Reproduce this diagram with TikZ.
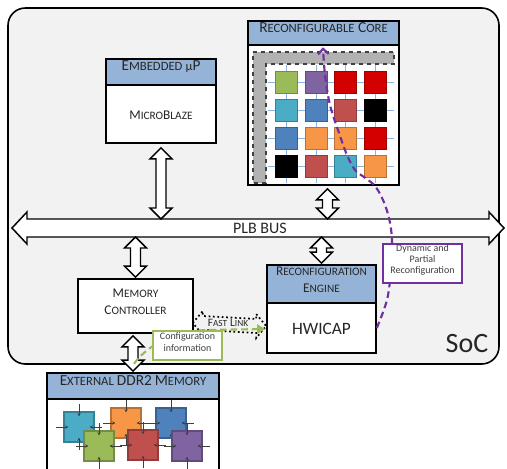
\documentclass[tikz,border=0pt]{standalone}
\usepackage{fontspec}
\setmainfont{Carlito}
\usetikzlibrary{calc,fit,arrows.meta}

\definecolor{socbg}{HTML}{F2F2F2}
\definecolor{hdrblue}{HTML}{95B3D7}
\definecolor{gridblue}{HTML}{8DB4E2}
\definecolor{lgray}{HTML}{B2B2B2}
\definecolor{cgreen}{HTML}{9BBB59}
\definecolor{cpurple}{HTML}{8064A2}
\definecolor{cred}{HTML}{D40000}
\definecolor{ccyan}{HTML}{4BACC6}
\definecolor{cblue}{HTML}{4F81BD}
\definecolor{cdred}{HTML}{C0504D}
\definecolor{corange}{HTML}{F79646}
\definecolor{linkpurple}{HTML}{7030A0}
\definecolor{linkgreen}{HTML}{9BBB59}

% fake small caps: large initial, smaller capitals
\newcommand{\SC}[4]{{\fontsize{#1}{#1}\selectfont #3}{\fontsize{#2}{#2}\selectfont #4}}
\newcommand{\HD}[2]{\SC{11.5}{9.5}{#1}{#2}}
\newcommand{\BD}[2]{\SC{10}{8.5}{#1}{#2}}

\tikzset{
  blockbox/.style={draw=black, line width=1.2pt, inner sep=0pt, fill=white},
  hdrbox/.style={blockbox, fill=hdrblue},
  blk/.style={draw=black, line width=1.1pt, fill=white, line join=miter},
  blkdot/.style={draw=black, line width=1.3pt, dotted, line join=miter},
  gridline/.style={draw=gridblue, line width=0.7pt},
  cell/.style={minimum size=16.5pt, inner sep=0pt, line width=0.6pt},
  memchip/.style={minimum size=22.5pt, inner sep=0pt, line width=0.8pt},
  chippin/.style={draw=black!75, line width=0.6pt, -{Stealth[length=2.5pt,width=2.5pt]}},
  note/.style={inner sep=0pt, fill=white, line width=1.3pt, align=center,
               font=\fontsize{7.5}{8.5}\selectfont, text=black!75},
}

% vertical double-headed block arrow between two points (top, bottom)
\newcommand{\vbi}[2]{%
  \draw[blk] (#1) -- ($(#1)+(11,11)$) -- ($(#1)+(5,11)$) -- ($(#2)+(5,-11)$)
    -- ($(#2)+(11,-11)$) -- (#2) -- ($(#2)+(-11,-11)$) -- ($(#2)+(-5,-11)$)
    -- ($(#1)+(-5,11)$) -- ($(#1)+(-11,11)$) -- cycle;}

% memory chip with a pin on each side
\newcommand{\chip}[4]{%
  \node[memchip, fill=#4, draw=#4!75!black] (#1) at (#2,#3) {};
  \draw[chippin] ($(#1.north)+(0,-7)$) -- ($(#1.north)+(0,5)$);
  \draw[chippin] ($(#1.south)+(0,7)$) -- ($(#1.south)+(0,-5)$);
  \draw[chippin] ($(#1.west)+(-7,0)$) -- ($(#1.west)+(5,0)$);
  \draw[chippin] ($(#1.east)+(7,0)$) -- ($(#1.east)+(-5,0)$);}

\begin{document}
\begin{tikzpicture}[x=0.75pt,y=-0.75pt]
\useasboundingbox (0,0) rectangle (507,468);
\clip (0,0) rectangle (507,468);

% system-on-chip outline
\node[fit={(8,8) (499,364)}, inner sep=0pt, draw=black, line width=1.2pt,
      fill=socbg, rounded corners=13pt] (soc) {};
\node[anchor=base east, font=\fontsize{21}{21}\selectfont, text=black!85] (soclbl) at (493,352) {SoC};

% PLB bus
\coordinate (busL) at (12,228);
\coordinate (busR) at (504,228);
\coordinate (bt) at (0,219);
\coordinate (bb) at (0,237);
\draw[blk] (busL) -- ($(busL)+(15,-16)$) -- ($(busL)+(15,-9)$) -- ($(busR)+(-15,-9)$)
  -- ($(busR)+(-15,-16)$) -- (busR) -- ($(busR)+(-15,16)$) -- ($(busR)+(-15,9)$)
  -- ($(busL)+(15,9)$) -- ($(busL)+(15,16)$) -- cycle;
\node[font=\fontsize{12}{12}\selectfont, text=black!85] (plb) at (260,228) {PLB BUS};

% reconfigurable core
\node[blockbox, fit={(248,21) (399,185)}] (core) {};
\node[hdrbox, fit={(248,21) (399,45)}, font=\fontsize{11.5}{11.5}\selectfont, text=black!85] (coreh)
  {\HD{R}{ECONFIGURABLE} \HD{C}{ORE}};
\draw[dashed, fill=lgray, draw=black!75, line width=0.8pt]
  (253,52) -- (394,52) -- (394,64) -- (266,64) -- (266,183) -- (253,183) -- cycle;
\foreach \y in {82,110,138,166} \draw[gridline] (268,\y) -- (394,\y);
\foreach \x in {286,316,345,375} \draw[gridline] (\x,65) -- (\x,183);
\foreach \x/\y/\c [count=\i] in {
  286/82/cgreen, 316/82/cpurple, 345/82/cred, 375/82/cred,
  286/110/ccyan, 316/110/cblue, 345/110/cdred, 375/110/black,
  286/138/cblue, 316/138/corange, 345/138/corange, 375/138/cred,
  286/166/black, 316/166/cdred, 345/166/ccyan, 375/166/corange}
  \node[cell, fill=\c, draw=\c!75!black] (cell\i) at (\x,\y) {};

% embedded processor
\node[blockbox, fit={(106,59) (216,143)}] (mb) {};
\node[hdrbox, fit={(106,59) (216,85)}, text=black!85] (mbh)
  {\HD{E}{MBEDDED} {\fontsize{9.5}{9.5}\selectfont µ}{\fontsize{11.5}{11.5}\selectfont P}};
\node[text=black!85] (mbtxt) at ($(mbh.south)!0.5!(mb.south)$) {\BD{M}{ICRO}\BD{B}{LAZE}};

% memory controller
\node[blockbox, fit={(78,279) (193,333)}, align=center, text=black!85,
      font=\fontsize{10}{12.5}\selectfont] (mc) {\BD{M}{EMORY}\\\BD{C}{ONTROLLER}};

% reconfiguration engine
\node[blockbox, fit={(267,265) (376,353)}] (eng) {};
\node[hdrbox, fit={(267,265) (376,303)}, align=center, text=black!85,
      font=\fontsize{11}{12.8}\selectfont] (engh) {\BD{R}{ECONFIGURATION}\\\BD{E}{NGINE}};
\node[font=\fontsize{13}{13}\selectfont, text=black!85] (hwicap) at ($(engh.south)!0.5!(eng.south)$) {HWICAP};

% external memory
\node[blockbox, fit={(47,373) (219,480)}] (ddr) {};
\node[hdrbox, fit={(47,373) (219,399)}, text=black!85] (ddrh)
  {\HD{E}{XTERNAL} \HD{DDR2}{} \HD{M}{EMORY}};
\chip{m1}{79}{427}{ccyan}
\chip{m3}{126}{423}{corange}
\chip{m5}{171}{423}{cblue}
\chip{m2}{99}{446}{cgreen}
\chip{m4}{143}{445}{cdred}
\chip{m6}{187}{446}{cpurple}

% bus connections
\vbi{$(mb.south)+(0,4)$}{mb.south |- bt}
\vbi{$(core.south)+(4,3)$}{$(core.south |- bt)+(4,0)$}
\vbi{eng.north |- bb}{$(eng.north)+(0,-1)$}
\vbi{mc.north |- bb}{$(mc.north)+(0,-1)$}
\vbi{$(mc.south)+(-2.5,2)$}{$(ddr.north)+(0,-1)$}

% fast link
\coordinate (flL) at ($(mc.east)+(-1,17)$);
\coordinate (flR) at ($(eng.west)+(0,17)$);
\draw[blkdot] (flL) -- ($(flL)+(10,-12)$) -- ($(flL)+(10,-7)$) -- ($(flR)+(-10,-7)$)
  -- ($(flR)+(-10,-12)$) -- (flR) -- ($(flR)+(-10,12)$) -- ($(flR)+(-10,7)$)
  -- ($(flL)+(10,7)$) -- ($(flL)+(10,12)$) -- cycle;
\node[text=black!85] (fltxt) at (228,322.5) {\SC{8.5}{7}{F}{AST} \SC{8.5}{7}{L}{INK}};

% configuration data path
\coordinate (engIn) at ($(eng.west)+(-1,20)$);
\draw[draw=linkgreen, line width=1.6pt, dash pattern=on 5pt off 3pt,
      -{Triangle[length=6pt,width=7pt]}]
  ($(mc.south)+(-1.5,30)$) .. controls (144,350) and (165,333) .. (205,330) -- (engIn);
\node[note, draw=linkgreen, fit={(153,331) (222,360)}] (cfg) {Configuration\\information};

% partial reconfiguration path
\coordinate (pStart) at ($(eng.east)+(0,19)$);
\coordinate (pEnd) at ($(coreh.south)+(-0.5,1.5)$);
\draw[draw=linkpurple, line width=1.6pt, dash pattern=on 5pt off 3pt,
      -{Straight Barb[length=4pt,width=8pt]}]
  plot[smooth, tension=0.55] coordinates {(pStart) (387,300) (391,270) (392,240) (389,218)
    (383,200) (375,186) (364,177) (355,170) (347,155) (339,133) (330,105) (325,75) (pEnd)};
\node[note, draw=linkpurple, line width=1.6pt, fit={(383,244) (462,283)}] (dyn)
  {Dynamic and\\Partial\\Reconfiguration};
\end{tikzpicture}
\end{document}
